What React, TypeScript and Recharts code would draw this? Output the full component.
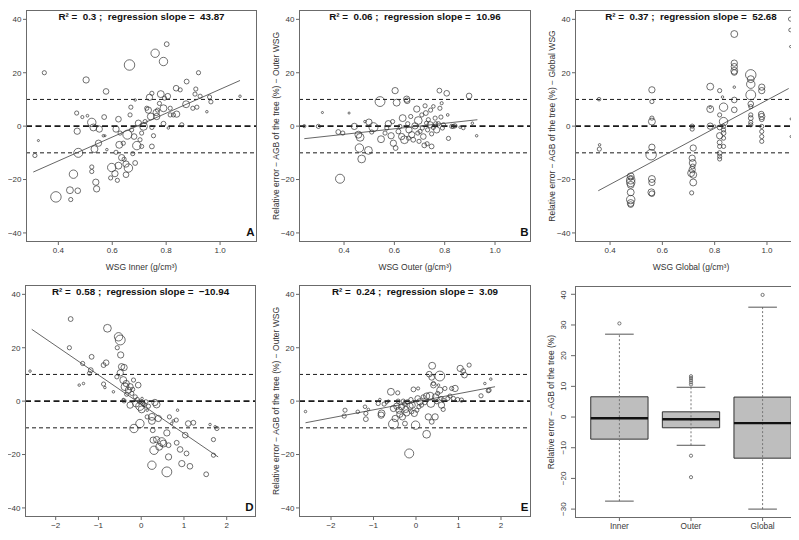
import React from "react";
import { ScatterChart, Scatter, XAxis, YAxis, ReferenceLine, ReferenceArea } from "recharts";

type Pt = [number, number, number]; // x, relative error (%), tree size class

// A: relative error with inner WSG vs WSG inner
const innerWsg: Pt[] = [
  [0.313, -11, 2], [0.326, -5.4, 1], [0.348, 20, 2], [0.391, -26.5, 5], [0.443, -24, 3.3], [0.446, -27.5, 2],
  [0.456, -18, 4], [0.472, -24.2, 2.7], [0.468, 4.9, 2], [0.47, -1.9, 3], [0.474, -10, 4.3], [0.489, 3.4, 1.5],
  [0.503, 17.3, 3], [0.508, 3.9, 1.3], [0.524, 1.4, 4], [0.524, -15.3, 2], [0.524, -17, 2], [0.53, -0.5, 3.3],
  [0.534, -8.6, 3.3], [0.539, -21, 3], [0.542, -23.5, 3], [0.549, -6.4, 3], [0.552, -1.1, 3], [0.57, 3.4, 2.3],
  [0.573, -3.6, 1], [0.577, 13, 2.7], [0.598, -15.5, 4], [0.594, -19.4, 2], [0.61, -17.8, 3], [0.614, -9.8, 2],
  [0.614, -1.1, 3], [0.619, -20.3, 2], [0.623, 2.6, 2.7], [0.623, -14.8, 3.3], [0.626, -7, 3.3], [0.629, -2.6, 2],
  [0.635, -11.8, 3], [0.641, -6.4, 2], [0.644, -12.4, 2], [0.651, -14.2, 3], [0.651, -18.2, 2.7], [0.656, -3.2, 4.3],
  [0.664, 22.9, 5], [0.66, -15.7, 4], [0.666, 4.2, 2], [0.669, 7.1, 2], [0.672, -1.4, 2], [0.676, -10.3, 2],
  [0.681, -3.9, 2.7], [0.685, -13.8, 2.3], [0.685, 9.8, 1.2], [0.691, -7.3, 4], [0.697, 1.1, 3], [0.703, -5.1, 2],
  [0.709, -2.6, 2], [0.709, -7.6, 2], [0.716, -0.1, 3.7], [0.722, 1.7, 2], [0.728, 6.7, 2], [0.734, 6, 3],
  [0.738, 10.8, 3], [0.743, 3.6, 3.3], [0.747, 12.3, 2], [0.747, -0.5, 2], [0.747, -7.6, 2.3], [0.753, -3.6, 2],
  [0.759, 27.3, 4], [0.763, 5.1, 3], [0.765, 3.6, 3], [0.768, 6, 2], [0.775, 8.5, 2], [0.78, 12, 3.3],
  [0.79, 24.2, 4], [0.79, 6.7, 3.3], [0.79, 0.9, 2.3], [0.794, 10.5, 2], [0.802, 30.7, 2.3], [0.806, 11.2, 2.7],
  [0.808, -0.7, 1.2], [0.815, 6.7, 2], [0.815, 4.2, 2], [0.827, 4.2, 2], [0.837, 14.2, 2.7], [0.839, 4.5, 3],
  [0.852, 13.6, 2], [0.858, 0.5, 2], [0.874, 8.2, 3.3], [0.876, 16.7, 2.3], [0.899, 6.7, 2], [0.907, 12, 2],
  [0.91, 13.9, 2], [0.914, 7.1, 2], [0.92, 20, 2], [0.926, 11.2, 2], [0.951, 5.4, 1.2], [0.961, 10.9, 2],
  [0.966, 9.1, 2], [1.074, 11.2, 1.2], [0.567, -3.6, 1.2], [0.58, -8.8, 1.2],
];

// B: relative error with outer WSG vs WSG outer
const outerWsg: Pt[] = [
  [0.242, 0, 1.5], [0.298, -0.1, 2], [0.314, 5.1, 1], [0.377, -2.2, 2.3], [0.395, -2.6, 2], [0.42, 4.9, 1],
  [0.441, -0.1, 3], [0.457, -3.2, 3.3], [0.461, -8.2, 4], [0.464, -4.2, 3.7], [0.47, -12.3, 3.7], [0.384, -19.7, 4.3],
  [0.497, -9.1, 3.7], [0.499, 1.5, 3], [0.51, -2.2, 2], [0.517, -0.4, 4.3], [0.543, 9.2, 4.7], [0.547, -4.9, 3.3],
  [0.563, -2.6, 2], [0.57, -0.7, 2], [0.576, 0.9, 3], [0.587, -3.6, 3], [0.596, -6.4, 3], [0.603, 13.3, 3],
  [0.605, -8.2, 2.3], [0.609, 8.8, 3.3], [0.616, -2, 2.3], [0.622, -0.1, 2], [0.629, -3.9, 3], [0.633, 3, 3.3],
  [0.64, -5.1, 3.7], [0.649, 10.1, 3], [0.651, 9.5, 2.7], [0.653, 0.9, 2], [0.658, -1.4, 3], [0.665, 3.6, 2],
  [0.669, -3.2, 3], [0.675, -5.1, 2.3], [0.682, 0.1, 3], [0.689, 6.4, 3], [0.693, -2.6, 2], [0.695, 2.1, 3.7],
  [0.698, -5.7, 2], [0.702, -2, 2], [0.709, 4.2, 2], [0.711, -0.7, 2], [0.715, -3.9, 2.7], [0.719, -7.2, 2.3],
  [0.725, 4.9, 2.3], [0.728, 1.1, 2], [0.732, -1.4, 2], [0.735, 2.4, 2], [0.742, 0.5, 3], [0.744, 6, 2],
  [0.748, -2.9, 2], [0.755, -0.5, 2], [0.762, 3, 2], [0.764, 0.9, 2], [0.768, -1.4, 3], [0.775, 0.9, 2],
  [0.779, 13.3, 2.3], [0.781, 6.7, 2], [0.785, 3.4, 2], [0.788, 8.6, 1.5], [0.791, -0.7, 2], [0.795, 0.5, 2],
  [0.808, 12.3, 2.7], [0.812, 4.2, 1.3], [0.815, -4.6, 2], [0.828, -0.1, 2], [0.834, -0.1, 2], [0.841, 0.1, 2],
  [0.861, -0.4, 1.2], [0.874, -0.7, 1.7], [0.897, 11.3, 2.7], [0.91, 1.1, 1.2], [0.927, -3.6, 1.2], [0.722, 7.6, 2],
  [0.755, 7.4, 1.7], [0.748, -7.6, 2.3], [0.73, -6.6, 2], [0.656, -4.5, 2], [0.593, 1.7, 2], [0.483, 1.7, 1.2],
];

// C: relative error with global WSG vs WSG global (species values)
const globalWsg: Pt[] = [
  [0.358, 10.1, 1.7], [0.359, -8.6, 2], [0.36, -7, 1.2],
  [0.479, -18.8, 3.3], [0.479, -20.1, 4], [0.479, -21.1, 4], [0.479, -22, 3.3], [0.479, -24.8, 3.3],
  [0.479, -27.5, 4], [0.479, -28.8, 3.3], [0.479, -29.4, 2.7], [0.479, -19.5, 2],
  [0.56, 13.6, 3], [0.56, 9.2, 2], [0.56, 1.7, 3.3], [0.56, 3, 2], [0.56, -7.9, 3], [0.557, -10.7, 5],
  [0.56, -19.8, 3.3], [0.56, -21.1, 3], [0.558, -24.8, 3.3], [0.56, -25.3, 2.7],
  [0.714, 0, 2], [0.714, -1.1, 2], [0.718, -8.2, 3], [0.714, -12, 3], [0.716, -13.8, 3.3], [0.714, -16.3, 3],
  [0.71, -17.6, 3.3], [0.718, -18.2, 3.3], [0.718, -21.1, 3.3], [0.712, -25, 2], [0.716, -15.1, 2.3],
  [0.783, 14.8, 3.3], [0.783, 6.4, 3.3], [0.783, 0, 3], [0.783, 7, 1.2], [0.8, 0, 1.2],
  [0.819, 13.3, 2], [0.819, 4.2, 2], [0.819, -3.6, 3], [0.819, -6.1, 2.3], [0.819, -7.6, 2], [0.819, -10.1, 2.3],
  [0.819, -11.3, 2], [0.819, -12.3, 2], [0.819, -0.5, 2.3],
  [0.834, 7.1, 4], [0.834, 1.7, 4], [0.834, -0.1, 2], [0.834, -1.4, 2], [0.834, -2.6, 2.3], [0.834, -4.5, 2],
  [0.834, -7.6, 2], [0.83, 10.9, 1.2],
  [0.875, 34.5, 3.3], [0.875, 23.6, 3], [0.875, 22.3, 3], [0.875, 20.7, 3.3], [0.875, 20.1, 2.7], [0.875, 14.6, 1.2],
  [0.875, 9.8, 2.7], [0.875, 6.1, 2.7],
  [0.938, 19.2, 5], [0.938, 17.6, 3.3], [0.938, 15.7, 4], [0.938, 11.7, 4.7], [0.938, 8.3, 2.7], [0.938, 7.3, 2],
  [0.938, 4.2, 2], [0.938, 3, 2.3], [0.938, 1.4, 2], [0.938, 0.5, 2],
  [0.98, 14.6, 3], [0.98, 13.3, 3], [0.978, 4.5, 2.7], [0.98, 3.6, 3], [0.98, 2.6, 2.3], [0.98, -0.1, 2],
  [0.98, -2, 2], [0.98, -3.9, 2], [0.98, -5.7, 2],
  [1.09, 40.1, 2], [1.09, 36, 1.7], [1.09, 29.8, 1], [1.092, 2.7, 1], [1.092, -3.9, 1],
];

// D: relative error with inner WSG vs slope
const innerSlope: Pt[] = [
  [-2.6, 11.25, 1.2], [-1.65, 30.75, 2.3], [-1.68, 20, 2], [-1.45, 6, 1.2], [-1.35, 6.6, 1.2], [-1.37, 14.1, 2],
  [-1.18, 11.6, 2.3], [-1.16, 16.6, 2.3], [-1.21, 10.4, 2], [-0.88, 13.5, 2.3], [-0.82, 14.4, 2.7], [-0.88, 6.4, 2],
  [-0.85, 5.1, 1.2], [-0.79, 27.3, 3.7], [-0.65, 3.5, 1.2], [-0.57, 9.1, 2], [-0.56, 20, 2], [-0.53, 24.1, 4],
  [-0.49, 22.9, 4.7], [-0.48, 17.3, 3], [-0.49, 10.6, 3], [-0.46, 12.9, 3], [-0.4, 12.6, 3], [-0.42, 7.9, 3.3],
  [-0.38, 5.4, 3.7], [-0.35, 6.6, 3], [-0.3, 4.1, 3], [-0.26, 5.4, 3], [-0.22, 2.9, 2], [-0.2, 4.4, 2],
  [-0.34, 2.6, 2], [-0.42, 0.6, 1.2], [-0.4, 0.1, 2], [-0.26, -1.5, 3], [-0.14, 1.6, 2], [-0.12, -0.9, 3.3],
  [-0.09, 0.6, 2], [-0.07, 6, 2.7], [-0.04, -0.25, 2], [-0.03, -1.9, 4], [0.01, -3.1, 3.3], [0.04, -0.9, 2],
  [0.07, -1.25, 2], [0.11, -0.25, 2], [0.14, -5.9, 2], [0.17, -1.9, 2], [-0.17, -10.25, 4], [-0.03, -8.4, 4],
  [0.25, -5.9, 3.3], [0.25, -7.4, 3.3], [0.27, -10.9, 2.3], [0.28, -14.6, 3], [0.3, -18.4, 4], [0.32, -0.5, 3],
  [0.36, -1.25, 3.3], [0.36, -14.4, 3], [0.4, -6.5, 3], [0.42, -17.1, 3.3], [0.48, -15.25, 4], [0.52, -15.9, 3.3],
  [0.25, -24, 4], [0.6, -11.9, 3], [0.6, -26.5, 4.7], [0.64, -16.5, 2.3], [0.64, -20.9, 3], [0.66, -5.9, 2],
  [0.71, -8.4, 1.2], [0.83, -15.6, 2.3], [0.82, -7.1, 2], [0.85, -3.4, 1.2], [0.91, -18.1, 2.7], [0.95, -23.4, 3],
  [1.03, -12.75, 2.7], [1.06, -19.6, 2.3], [1.1, -8.4, 2.7], [1.14, -24.4, 2.7], [1.22, -8.1, 2.3], [1.52, -27.4, 2.3],
  [1.61, -8.75, 1.2], [1.69, -14.4, 2], [1.69, -20.25, 2], [1.77, -10.25, 2], [1.73, -9.6, 1.2], [0.75, -7.4, 1.2],
  [-0.18, 7.9, 2], [0.02, 1, 1.2], [0.14, -3.4, 1.2],
];

// E: relative error with outer WSG vs slope
const outerSlope: Pt[] = [
  [-2.6, -3.9, 1.2], [-1.67, -3.4, 2], [-1.69, -5.6, 2], [-1.37, -4, 1.7], [-1.2, -2.1, 1.7], [-1.18, -4.6, 2],
  [-1.18, -6.75, 2.3], [-1.12, -3.1, 1.2], [-0.89, -0.9, 2], [-0.85, 0.6, 1.2], [-0.81, -4.6, 3.3], [-0.82, -5.25, 3],
  [-0.75, -1.1, 2], [-0.69, -0.6, 1.2], [-0.59, 3.5, 3.3], [-0.53, -8.6, 4.7], [-0.53, -2.75, 3], [-0.49, -6.5, 3],
  [-0.45, -1.9, 3], [-0.43, 3.1, 2], [-0.42, 0, 2], [-0.4, -3.4, 3], [-0.38, -4.9, 3], [-0.34, -2.1, 3],
  [-0.32, -5.9, 3], [-0.3, 0, 2], [-0.27, -1.1, 2], [-0.26, -8.4, 2.3], [-0.24, -3.1, 3], [-0.22, -4.4, 3],
  [-0.2, -0.25, 2], [-0.16, -19.6, 4.3], [-0.14, -1.9, 3], [-0.12, 0.6, 2], [-0.1, -4, 2], [-0.09, -1.5, 3],
  [-0.06, 4.4, 2.3], [-0.04, -4.6, 3], [-0.01, -9, 4], [0.02, -3.4, 2], [0.04, 1, 2.7], [0.05, 4.75, 1.5],
  [0.07, -2.1, 2], [0.09, -0.25, 3], [0.13, -1.5, 2], [0.17, 1.6, 2], [0.21, -0.6, 2], [0.25, 1.9, 3],
  [0.25, -12.4, 3.7], [0.29, -5.9, 3], [0.31, 10.1, 2.7], [0.33, 1.9, 3.7], [0.35, -0.9, 3.7], [0.37, 8.9, 2.7],
  [0.38, 13.25, 3.3], [0.37, -7.75, 2.3], [0.41, 6.6, 2], [0.41, 6, 2.7], [0.46, 1.6, 3], [0.45, -5.9, 3],
  [0.49, -0.25, 2], [0.51, 2.9, 2], [0.56, 9.4, 4.7], [0.56, 4.1, 3], [0.59, 1, 2], [0.6, -1.5, 3],
  [0.64, 0.4, 2], [0.64, -3.1, 2], [0.68, 4.75, 2], [0.75, 1, 2], [0.8, 1.9, 2], [0.84, 4.75, 2],
  [0.92, 4.75, 3], [0.88, 1, 2], [0.98, 0.6, 2], [1.04, 12.25, 3], [1.07, 0.4, 2], [1.11, 11.25, 2.3],
  [1.14, 9.75, 2.7], [1.25, 13.5, 2], [1.53, 2, 2], [1.62, 6.6, 1.2], [1.7, 3.9, 2], [1.72, 4.1, 2],
  [1.76, 8.25, 1.2], [-0.65, 0, 1.2], [0.53, 6, 1.2],
];

// fitted regression lines, endpoints [x, y]
const fitA = [[0.307, -17.2], [1.074, 17.1]];
const fitB = [[0.242, -4.7], [0.93, 2.4]];
const fitC = [[0.355, -24.2], [1.083, 14.1]];
const fitD = [[-2.56, 26.9], [1.8, -20.9]];
const fitE = [[-2.6, -8.1], [1.86, 5.4]];

const wsgTicks = [0.4, 0.6, 0.8, 1.0];
const slopeTicks = [-2, -1, 0, 1, 2];
const errTicks = [-40, -20, 0, 20, 40];
const thresholds = [-10, 0, 10];

// F: boxplot summary
const boxGroups = ["Inner", "Outer", "Global"];
const boxLow = [-27.4, -9.2, -30];
const boxQ1 = [-7.2, -3.5, -13.4];
const boxMed = [-0.4, -0.7, -2];
const boxQ3 = [6.6, 1.7, 6.5];
const boxHigh = [27, 9.7, 35.8];
const boxOutliers = [[30.5], [10.6, 11.3, 12, 12.7, 13.3, -12.6, -19.6], [39.8]];
const boxTicks = [-30, -20, -10, 0, 10, 20, 30, 40];

const FONT = "'Liberation Sans', Arial, Helvetica, sans-serif";
const YW = 30;
const XH = 22;
const fmt = (v: number) => String(v).replace("-", "\u2212");

function Txt({ x, y, children, size = 8.5, bold = false, rot = false, right = false, color = "#333" }: any) {
  const tx = right ? "-100%" : "-50%";
  return (
    <div
      style={{
        position: "absolute",
        left: x,
        top: y,
        transform: `translate(${tx},-50%)${rot ? " rotate(-90deg)" : ""}`,
        fontSize: size,
        fontWeight: bold ? 700 : 400,
        whiteSpace: "pre",
        lineHeight: 1,
        color,
      }}
    >
      {children}
    </div>
  );
}

function Frame({ x0, y0, x1, y1 }: any) {
  return (
    <div
      style={{
        position: "absolute",
        left: x0,
        top: y0,
        width: x1 - x0,
        height: y1 - y0,
        border: "1px solid #6b6b6b",
        boxSizing: "border-box",
        pointerEvents: "none",
      }}
    />
  );
}

const bubble = (p: any) => (
  <circle cx={p.cx} cy={p.cy} r={p.payload.s * 1.05} fill="none" stroke="#333" strokeWidth={0.7} />
);

function ScatterPanel({ box, xDomain, xTicks, digits, pts, fit, title, letter, xLabel, yLabel }: any) {
  const { x0, y0, x1, y1 } = box;
  const data = pts.map(([x, y, s]: Pt) => ({ x, y, s }));
  const tickStyle = { fontSize: 8, fill: "#3a3a3a", fontFamily: FONT };
  return (
    <>
      <div style={{ position: "absolute", left: x0 - YW, top: y0 }}>
        <ScatterChart width={x1 - x0 + YW} height={y1 - y0 + XH} margin={{ top: 0, right: 0, bottom: 0, left: 0 }}>
          <XAxis
            type="number"
            dataKey="x"
            domain={xDomain}
            ticks={xTicks}
            allowDataOverflow
            height={XH}
            axisLine={false}
            tickSize={3}
            tickMargin={2.5}
            tickLine={{ stroke: "#666" }}
            tick={tickStyle}
            tickFormatter={(v: number) => (digits ? v.toFixed(digits) : fmt(v))}
          />
          <YAxis
            type="number"
            dataKey="y"
            domain={[-43.4, 43.5]}
            ticks={errTicks}
            allowDataOverflow
            width={YW}
            axisLine={false}
            tickSize={3}
            tickMargin={1.5}
            tickLine={{ stroke: "#666" }}
            tick={tickStyle}
            tickFormatter={fmt}
          />
          {thresholds.map((t) => (
            <ReferenceLine
              key={t}
              y={t}
              stroke="#1a1a1a"
              strokeWidth={t === 0 ? 1.6 : 1}
              strokeDasharray={t === 0 ? "6 3.5" : "4 3"}
            />
          ))}
          <Scatter data={data} shape={bubble} isAnimationActive={false} />
          <ReferenceLine
            segment={[{ x: fit[0][0], y: fit[0][1] }, { x: fit[1][0], y: fit[1][1] }]}
            stroke="#555"
            strokeWidth={0.9}
          />
        </ScatterChart>
      </div>
      <Frame {...box} />
      <Txt x={(x0 + x1) / 2} y={y0 + 6.5} size={9.8} bold color="#111">{title}</Txt>
      <Txt x={x1 - 2.5} y={y1 - 9} size={11.5} bold right color="#111">{letter}</Txt>
      <Txt x={(x0 + x1) / 2} y={y1 + 25} size={8.5}>{xLabel}</Txt>
      <Txt x={x0 - 23} y={(y0 + y1) / 2} size={8.5} rot>{yLabel}</Txt>
    </>
  );
}

const RotTick = (p: any) => (
  <text
    x={p.x}
    y={p.y}
    transform={`rotate(-90 ${p.x} ${p.y})`}
    textAnchor="middle"
    fontSize={8}
    fill="#3a3a3a"
    fontFamily={FONT}
  >
    {fmt(p.payload.value)}
  </text>
);

function BoxPanel({ box }: any) {
  const { x0, y0, x1, y1 } = box;
  const outl = boxOutliers.flatMap((vals, i) => vals.map((v) => ({ x: i + 1, y: v })));
  return (
    <>
      <div style={{ position: "absolute", left: x0 - YW, top: y0 }}>
        <ScatterChart width={x1 - x0 + YW} height={y1 - y0 + XH} margin={{ top: 0, right: 0, bottom: 0, left: 0 }}>
          <XAxis
            type="number"
            dataKey="x"
            domain={[0.38, 3.62]}
            ticks={[1, 2, 3]}
            allowDataOverflow
            height={XH}
            axisLine={false}
            tickSize={3}
            tickMargin={2.5}
            tickLine={{ stroke: "#666" }}
            tick={{ fontSize: 8.3, fill: "#3a3a3a", fontFamily: FONT }}
            tickFormatter={(v: number) => boxGroups[v - 1]}
          />
          <YAxis
            type="number"
            dataKey="y"
            domain={[-32.9, 42.7]}
            ticks={boxTicks}
            allowDataOverflow
            width={YW}
            axisLine={false}
            tickSize={4}
            tickMargin={5}
            tickLine={{ stroke: "#666" }}
            tick={RotTick}
          />
          {boxGroups.map((g, i) => (
            <ReferenceLine
              key={g + "w"}
              segment={[{ x: i + 1, y: boxLow[i] }, { x: i + 1, y: boxHigh[i] }]}
              stroke="#777"
              strokeDasharray="2 2"
              strokeWidth={1}
            />
          ))}
          {boxGroups.map((g, i) => (
            <ReferenceLine
              key={g + "hi"}
              segment={[{ x: i + 0.8, y: boxHigh[i] }, { x: i + 1.2, y: boxHigh[i] }]}
              stroke="#555"
              strokeWidth={1}
            />
          ))}
          {boxGroups.map((g, i) => (
            <ReferenceLine
              key={g + "lo"}
              segment={[{ x: i + 0.8, y: boxLow[i] }, { x: i + 1.2, y: boxLow[i] }]}
              stroke="#555"
              strokeWidth={1}
            />
          ))}
          {boxGroups.map((g, i) => (
            <ReferenceArea
              key={g + "b"}
              x1={i + 0.6}
              x2={i + 1.4}
              y1={boxQ1[i]}
              y2={boxQ3[i]}
              fill="#bebebe"
              fillOpacity={1}
              stroke="#333"
              strokeWidth={1}
            />
          ))}
          {boxGroups.map((g, i) => (
            <ReferenceLine
              key={g + "m"}
              segment={[{ x: i + 0.6, y: boxMed[i] }, { x: i + 1.4, y: boxMed[i] }]}
              stroke="#111"
              strokeWidth={2.4}
            />
          ))}
          <Scatter
            data={outl}
            isAnimationActive={false}
            shape={(p: any) => <circle cx={p.cx} cy={p.cy} r={1.6} fill="none" stroke="#555" strokeWidth={0.8} />}
          />
        </ScatterChart>
      </div>
      <Frame {...box} />
      <Txt x={x1 - 2.5} y={y1 - 9} size={11.5} bold right color="#111">F</Txt>
      <Txt x={x0 - 24} y={(y0 + y1) / 2} size={8.5} rot>Relative error − AGB of the tree (%)</Txt>
    </>
  );
}

export default function App() {
  return (
    <div
      style={{
        position: "relative",
        margin: -8,
        width: 799,
        height: 540,
        overflow: "hidden",
        background: "#fff",
        fontFamily: FONT,
      }}
    >
      <ScatterPanel
        box={{ x0: 26, y0: 10, x1: 257, y1: 242 }}
        xDomain={[0.28, 1.137]}
        xTicks={wsgTicks}
        digits={1}
        pts={innerWsg}
        fit={fitA}
        title="R² =  0.3 ;  regression slope =  43.87"
        letter="A"
        xLabel="WSG Inner (g/cm³)"
        yLabel="Relative error − AGB of the tree (%) − Inner WSG"
      />
      <ScatterPanel
        box={{ x0: 299, y0: 10, x1: 531, y1: 242 }}
        xDomain={[0.221, 1.143]}
        xTicks={wsgTicks}
        digits={1}
        pts={outerWsg}
        fit={fitB}
        title="R² =  0.06 ;  regression slope =  10.96"
        letter="B"
        xLabel="WSG Outer (g/cm³)"
        yLabel="Relative error − AGB of the tree (%) − Outer WSG"
      />
      <ScatterPanel
        box={{ x0: 575, y0: 10, x1: 807, y1: 242 }}
        xDomain={[0.266, 1.153]}
        xTicks={wsgTicks}
        digits={1}
        pts={globalWsg}
        fit={fitC}
        title="R² =  0.37 ;  regression slope =  52.68"
        letter="C"
        xLabel="WSG Global (g/cm³)"
        yLabel="Relative error − AGB of the tree (%) − Global WSG"
      />
      <ScatterPanel
        box={{ x0: 25, y0: 285, x1: 256, y1: 517 }}
        xDomain={[-2.718, 2.685]}
        xTicks={slopeTicks}
        digits={0}
        pts={innerSlope}
        fit={fitD}
        title="R² =  0.58 ;  regression slope =  −10.94"
        letter="D"
        xLabel="Slope"
        yLabel="Relative error − AGB of the tree (%) − Inner WSG"
      />
      <ScatterPanel
        box={{ x0: 299, y0: 285, x1: 531, y1: 517 }}
        xDomain={[-2.753, 2.706]}
        xTicks={slopeTicks}
        digits={0}
        pts={outerSlope}
        fit={fitE}
        title="R² =  0.24 ;  regression slope =  3.09"
        letter="E"
        xLabel="Slope"
        yLabel="Relative error − AGB of the tree (%) − Outer WSG"
      />
      <BoxPanel box={{ x0: 575, y0: 286, x1: 807, y1: 518 }} />
    </div>
  );
}
